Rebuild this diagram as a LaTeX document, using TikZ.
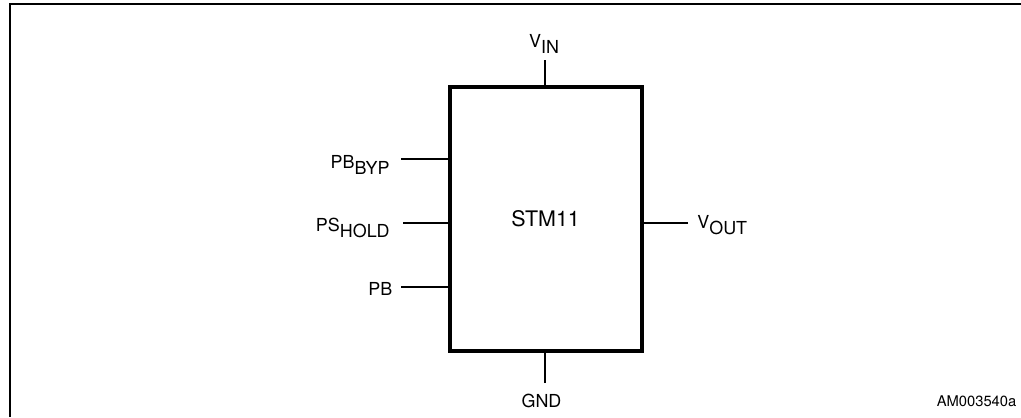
\documentclass[tikz,border=0pt]{standalone}
\usepackage{fontspec}
\setmainfont{TeX Gyre Heros}
\usetikzlibrary{calc}

\newcommand\pinsub[1]{\raisebox{-0.37em}{#1}}
\tikzset{
  lead/.style={line width=1.15pt},
  chipbox/.style={draw, line width=2.3pt, minimum width=3.84cm, minimum height=5.27cm, inner sep=0pt, font=\fontsize{12.2}{14}\selectfont},
  pinlbl/.style={inner sep=0pt, font=\fontsize{10.2}{12}\selectfont},
}

\begin{document}
\begin{tikzpicture}[x=0.02cm,y=-0.02cm]
\useasboundingbox (0,0) rectangle (1021,417);
\draw[line width=1.2pt] (10,417)--(10,4)--(1021,4);
\node[chipbox] (chip) at (545.6,218.9) {STM11};
\coordinate (vin) at (545,60); \coordinate (gnd) at (545,383);
\coordinate (byp) at (401,159.3); \coordinate (hold) at (403,223.3); \coordinate (pb) at (401,287.3);
\coordinate (vout) at (688,222.7);
\draw[lead] (vin)--(vin |- chip.north);
\draw[lead] (gnd)--(gnd |- chip.south);
\draw[lead] (byp)--(byp -| chip.west);
\draw[lead] (hold)--(hold -| chip.west);
\draw[lead] (pb)--(pb -| chip.west);
\draw[lead] (vout)--(vout -| chip.east);
\node[pinlbl,anchor=base] (lvin) at (544,47) {V\pinsub{IN}};
\node[pinlbl,anchor=base] (lgnd) at (541.5,407.3) {GND};
\node[pinlbl,anchor=base east] (lbyp) at (390,168.3) {PB\pinsub{BYP}};
\node[pinlbl,anchor=base east] (lhold) at (390,231) {PS\pinsub{HOLD}};
\node[pinlbl,anchor=base east] (lpb) at (392.7,295) {PB};
\node[pinlbl,anchor=base west] (lvout) at (697,228.3) {V\pinsub{OUT}};
\node[inner sep=0pt,anchor=base east,font=\fontsize{8.4}{10}\selectfont] (ref) at (1016.7,406) {AM003540a};
\end{tikzpicture}
\end{document}
